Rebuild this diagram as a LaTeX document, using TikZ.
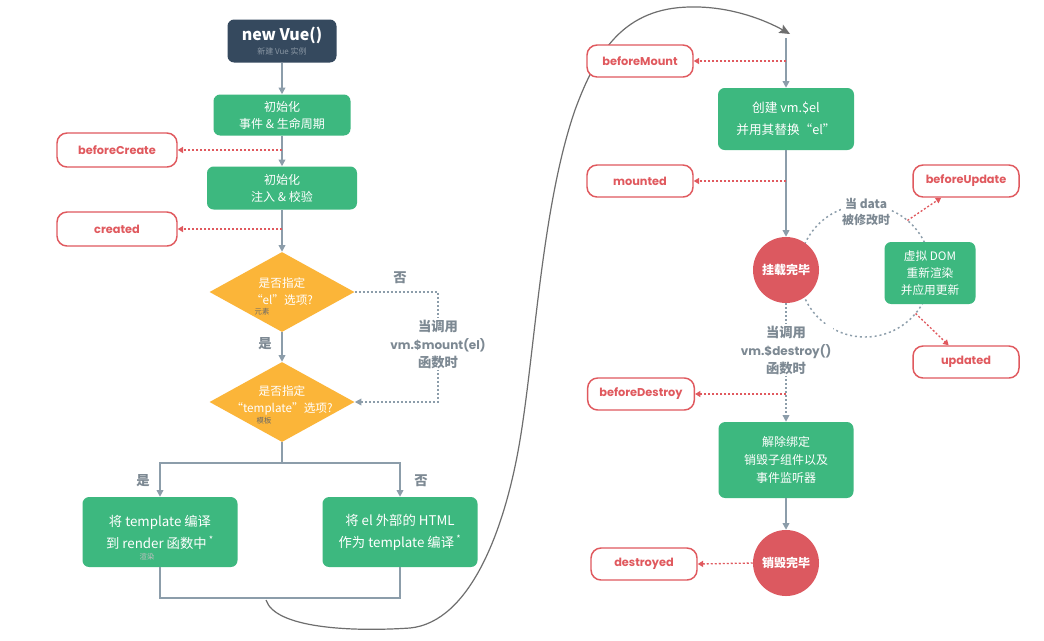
\documentclass[tikz,border=0pt]{standalone}
\usepackage{fontspec}
\setmainfont{Noto Sans CJK SC}
\newfontfamily\pop{Poppins}
\usetikzlibrary{shapes.geometric,arrows.meta,calc}
\definecolor{vdark}{HTML}{35495E}
\definecolor{vgreen}{HTML}{3DB87F}
\definecolor{vyellow}{HTML}{FBB539}
\definecolor{vred}{HTML}{E0595E}
\definecolor{cred}{HTML}{DC5960}
\definecolor{lgray}{HTML}{8C9DAA}
\definecolor{tgray}{HTML}{7D8993}
\definecolor{sgray}{HTML}{8996A3}
\definecolor{cgray}{HTML}{6E6E6E}
\definecolor{smalltxt}{HTML}{6A6A6A}
\begin{document}
\begin{tikzpicture}[x=0.75pt,y=-0.75pt,
  gbox/.style={fill=vgreen, text=white, rounded corners=5pt, align=center, inner sep=0pt, font=\fontsize{9}{12.75}\selectfont},
  hook/.style={draw=vred, line width=1.1pt, fill=white, rounded corners=7.5pt, text=vred, font=\pop\bfseries\fontsize{8.5}{10}\selectfont, minimum width=79.5pt, minimum height=24pt, inner sep=0pt},
  conn/.style={draw=lgray, line width=1.1pt, -{Triangle[width=5pt,length=5pt]}},
  plainline/.style={draw=lgray, line width=1.1pt},
  hookarr/.style={draw=vred, line width=1pt, dash pattern=on 1.5pt off 1.5pt, -{Triangle[width=4.5pt,length=4pt]}},
  grayarr/.style={draw=lgray, line width=1.1pt, dash pattern=on 1.5pt off 1.5pt},
  dmd/.style={diamond, fill=vyellow, minimum width=108.75pt, minimum height=60pt, inner sep=0pt},
  dtext/.style={text=white, align=center, font=\fontsize{8.75}{12.75}\selectfont, inner sep=0pt},
  lbl/.style={text=tgray, font=\bfseries\fontsize{10}{13.5}\selectfont, align=center},
  small/.style={text=smalltxt, font=\fontsize{5.5}{6}\selectfont, inner sep=0pt},
  rc/.style={circle, fill=cred, minimum size=49.5pt, inner sep=0pt, text=white, font=\bfseries\fontsize{9}{11}\selectfont},
  curve/.style={draw=cgray, line width=0.9pt, -{Stealth[length=8pt,width=7pt,inset=1.5pt]}}
]
\useasboundingbox (0,0) rectangle (1044,640);
\fill[white] (0,0) rectangle (1044,640);

% ---------- left column ----------
\node[fill=vdark, rounded corners=5pt, minimum width=81.75pt, minimum height=32.25pt, inner sep=0pt, text=white, align=center] (vue) at (282,41)
  {{\fontsize{12}{13}\selectfont\bfseries new Vue()}\\[-1pt]{\fontsize{6}{7}\selectfont\color{sgray}新建 Vue 实例}};
\node[gbox, minimum width=102.75pt, minimum height=30.75pt] (i1) at (282,115) {初始化\\事件 \& 生命周期};
\node[hook, minimum width=90pt, minimum height=25.5pt] (bc) at (117,150) {beforeCreate};
\node[gbox, minimum width=112.5pt, minimum height=32.25pt] (i2) at (282,188) {初始化\\注入 \& 校验};
\node[hook, minimum width=90pt, minimum height=25.5pt] (cr) at (117,229) {created};

\node[dmd] (d1) at (282,292) {};
\node[dtext] (d1t) at (282,292) {是否指定\\“el”选项?};
\node[small] (d1s) at (262,312) {元素};
\node[dmd] (d2) at (282,402) {};
\node[dtext] (d2t) at (282,400) {是否指定\\“template”选项?};
\node[small] (d2s) at (264,421) {模板};

\node[gbox, minimum width=116.25pt, minimum height=52.5pt, font=\fontsize{10}{16.5}\selectfont] (lb) at (160,532) {将 template 编译\\到 render 函数中\,\textsuperscript{*}};
\node[small, text=white!75!black] (lbs) at (147,557) {渲染};
\node[gbox, minimum width=116.25pt, minimum height=52.5pt, font=\fontsize{10}{16.5}\selectfont] (rb) at (400,532) {将 el 外部的 HTML\\作为 template 编译\,\textsuperscript{*}};

\coordinate (mk) at (438,292);
\coordinate (split) at (282,463);
\coordinate (join) at (282,598);

\draw[conn] (vue) -- (i1);
\draw[conn] (i1) -- (i2);
\draw[conn] (i2) -- (d1);
\draw[conn] (d1) -- (d2);
\draw[hookarr] (i1.south |- bc.east) -- (bc.east);
\draw[hookarr] (i2.south |- cr.east) -- (cr.east);
\draw[grayarr, -{Triangle[width=5pt,length=5pt]}] (d1.east) -- (mk) |- (d2.east);
\draw[plainline] (d2.south) -- (split);
\draw[conn] (split) -| (lb.north);
\draw[conn] (split) -| (rb.north);
\draw[plainline] (lb.south) |- (join) -| (rb.south);

\node[lbl] (no1) at (400,278) {否};
\node[lbl] (yes1) at (265,344) {是};
\node[lbl] (yes2) at (143,481) {是};
\node[lbl] (no2) at (421,481) {否};
\node[lbl, fill=white, inner sep=1pt] (mlab) at (438,344) {当调用\\{\pop\fontsize{9}{13.5}\selectfont vm.\$mount(el)}\\函数时};

% ---------- big curve ----------
\coordinate (cs) at (266,600);
\coordinate (ce) at (790,34);
\draw[curve] (cs) .. controls (275,628) and (350,632) .. (410,628)
  .. controls (470,622) and (505,530) .. (520,440)
  .. controls (535,350) and (542,205) .. (575,110)
  .. controls (597,50) and (625,8) .. (690,7)
  .. controls (730,6) and (765,20) .. (ce);

% ---------- right column ----------
\coordinate (rtop) at (786,38);
\coordinate (cc) at (865,271);
\draw[grayarr, dash pattern=on 1.5pt off 2.2pt] (cc) circle[radius=49.5pt];

\node[gbox, minimum width=102pt, minimum height=46.5pt, font=\fontsize{9.5}{16.5}\selectfont] (mb) at (786,119) {创建 vm.\$el\\并用其替换“el”};
\node[hook] (bm) at (640,61) {beforeMount};
\node[hook] (mo) at (640,181) {mounted};
\node[rc] (c1) at (786,270) {挂载完毕};
\node[gbox, minimum width=68.25pt, minimum height=46.5pt, font=\fontsize{8.75}{12.75}\selectfont] (vd) at (930,273) {虚拟 DOM\\重新渲染\\并应用更新};
\node[lbl, fill=white, inner sep=1pt, font=\bfseries\fontsize{9}{12.5}\selectfont] (dl) at (866,212) {当 data\\被修改时};
\node[hook] (bu) at (966,181) {beforeUpdate};
\node[hook] (up) at (966,362) {updated};
\node[hook, minimum width=80pt] (bd) at (641,394) {beforeDestroy};
\node[gbox, minimum width=101.25pt, minimum height=57pt, font=\fontsize{9}{13.75}\selectfont] (db) at (786,460) {解除绑定\\销毁子组件以及\\事件监听器};
\node[rc] (c2) at (786,563) {销毁完毕};
\node[hook] (de) at (644,564) {destroyed};

\coordinate (upA) at ([shift={(50:49.5pt)}]cc);
\coordinate (upB) at ([shift={(-40:49.5pt)}]cc);

\draw[conn] (rtop) -- (mb);
\draw[conn] (mb) -- (c1);
\draw[hookarr] (rtop |- bm.east) -- (bm.east);
\draw[hookarr] (mb.south |- mo.east) -- (mo.east);
\draw[hookarr] (upA) -- (bu);
\draw[hookarr] (upB) -- (up);
\draw[grayarr, -{Triangle[width=5pt,length=5pt]}] (c1.south) -- (db.north);
\draw[hookarr] (c1.south |- bd.east) -- (bd.east);
\draw[conn] (db) -- (c2);
\draw[hookarr] (c2.west) -- (de.east);
\node[lbl, fill=white, inner sep=1pt] (dlab) at (786,350) {当调用\\{\pop\fontsize{9}{13.5}\selectfont vm.\$destroy()}\\函数时};
\end{tikzpicture}
\end{document}
